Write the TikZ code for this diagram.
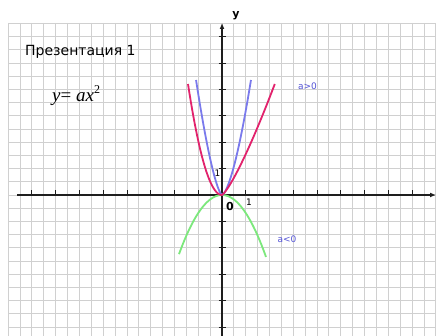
\documentclass[tikz,border=0pt]{standalone}
\usepackage{fontspec}
\setmainfont{DejaVu Sans}
\newfontfamily\formulafont{Liberation Serif}
\usetikzlibrary{arrows.meta}
\definecolor{gridgray}{RGB}{208,208,208}
\definecolor{axisblack}{RGB}{30,30,30}
\definecolor{curvepink}{RGB}{226,34,108}
\definecolor{curveblue}{RGB}{122,122,236}
\definecolor{curvegreen}{RGB}{124,232,124}
\definecolor{labelblue}{RGB}{84,84,214}
\tikzset{
  gridline/.style={draw=gridgray, line width=0.9pt},
  axisline/.style={draw=axisblack, line width=1.9pt},
  tickmark/.style={draw=axisblack, line width=0.9pt},
  pinkcurve/.style={draw=curvepink, line width=1.8pt},
  bluecurve/.style={draw=curveblue, line width=1.8pt},
  greencurve/.style={draw=curvegreen, line width=1.8pt},
  smalllabel/.style={inner sep=0pt, font=\fontsize{9}{9}\selectfont},
  casebluelabel/.style={inner sep=0pt, text=labelblue, font=\fontsize{9}{9}\selectfont},
}
\begin{document}
\begin{tikzpicture}[x=1pt,y=-1pt]
\useasboundingbox (0,0) rectangle (436,336);
\fill[white] (0,0) rectangle (436,336);
% grid
\begin{scope}
\clip (8.2,22.8) rectangle (436,336);
\foreach \k in {-18,...,18} \draw[gridline] ({222+11.88*\k},22.8) -- ({222+11.88*\k},336);
\foreach \k in {-13,...,10} \draw[gridline] (8.2,{195+13.2*\k}) -- (436,{195+13.2*\k});
\end{scope}
% axes
\coordinate (o) at (222,195);
\coordinate (xstart) at (17,195);
\coordinate (xend) at (436,195);
\coordinate (ystart) at (222,336);
\coordinate (yend) at (222,23);
\foreach \k in {-8,...,-1,1,2,...,8} \draw[tickmark] ({222+23.76*\k},195) -- ({222+23.76*\k},190.5);
\foreach \k in {-6,...,-1,1,2,...,5} \draw[tickmark] (218.5,{195+26.4*\k}) -- (226,{195+26.4*\k});
\draw[axisline,-{Latex[length=6pt,width=5pt]}] (xstart) -- (xend);
\draw[axisline,-{Latex[length=6pt,width=5pt]}] (ystart) -- (yend);
% curves
\draw[greencurve] plot[domain=-43:44, samples=60, smooth] ({222+\x},{195+0.032*\x*\x});
\draw[bluecurve] plot[domain=115:0.4, samples=60, smooth] ({222-1.03*(\x)^0.68},{195-\x}) -- (o)
  -- plot[domain=0.4:115, samples=60, smooth] ({222+1.39*(\x)^0.64},{195-\x});
\draw[pinkcurve] plot[domain=34:0, samples=60, smooth] ({222-\x},{195-0.096*\x*\x}) -- (o)
  -- plot[domain=0.4:111, samples=60, smooth] ({222+1.22*(\x)^0.8},{195-\x});
% labels
\node[anchor=base west, inner sep=0pt, font=\fontsize{14}{14}\selectfont] (title) at (25,56) {Презентация 1};
\node[anchor=base west, inner sep=0pt] (formula) at (52,102) {\formulafont\fontsize{19}{19}\selectfont\itshape y\upshape= \itshape ax\upshape\raisebox{0.45em}{\fontsize{12}{12}\selectfont 2}};
\node[inner sep=0pt, font=\bfseries\fontsize{11}{11}\selectfont] (ylabel) at (236,16) {y};
\node[smalllabel] (xone) at (249,202) {1};
\node[smalllabel] (yone) at (217.5,173.5) {1};
\node[inner sep=0pt, font=\bfseries\fontsize{11}{11}\selectfont] (zero) at (230,206.5) {0};
\node[casebluelabel] (apos) at (307.5,86) {a>0};
\node[casebluelabel] (aneg) at (287,239) {a<0};
\end{tikzpicture}
\end{document}
